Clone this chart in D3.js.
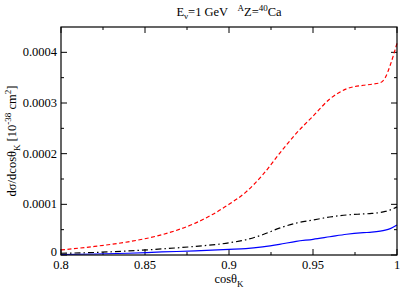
<!DOCTYPE html>
<html>
<head>
<meta charset="utf-8">
<script src="https://cdn.jsdelivr.net/npm/d3@7"></script>
<style>
  body { margin: 0; background: #fff; }
  svg text { font-family: "Liberation Serif", "DejaVu Serif", serif; fill: #000; }
</style>
</head>
<body>
<div id="chart"></div>
<script>
// cos(theta_K) grid and curves, values in units of 1e-4 (10^-38 cm^2)
const cosK = [0.80, 0.82, 0.84, 0.86, 0.88, 0.90, 0.91, 0.92, 0.93, 0.94, 0.95, 0.96, 0.97, 0.98, 0.985, 0.99, 0.993, 0.996, 1.0];
const redDashed = [0.10, 0.17, 0.26, 0.40, 0.63, 1.00, 1.24, 1.58, 2.00, 2.40, 2.74, 3.08, 3.28, 3.35, 3.37, 3.40, 3.50, 3.75, 4.18];
const blackDashDot = [0.035, 0.05, 0.08, 0.12, 0.17, 0.24, 0.30, 0.40, 0.53, 0.63, 0.69, 0.75, 0.79, 0.81, 0.82, 0.84, 0.86, 0.89, 0.95];
const blueSolid = [0.01, 0.02, 0.035, 0.06, 0.08, 0.11, 0.125, 0.16, 0.21, 0.27, 0.31, 0.36, 0.41, 0.44, 0.45, 0.47, 0.49, 0.52, 0.59];

const xTicks = [0.8, 0.85, 0.9, 0.95, 1];
const xTickLabels = ["0.8", "0.85", "0.9", "0.95", "1"];
const yTicks = [0, 0.0001, 0.0002, 0.0003, 0.0004];
const yTickLabels = ["0", "0.0001", "0.0002", "0.0003", "0.0004"];

const width = 415, height = 294;
const margin = { left: 61, right: 18, top: 27, bottom: 39 };
const serif = "'Liberation Serif', 'DejaVu Serif', serif";

const svg = d3.select("#chart")
  .append("svg")
  .attr("width", width)
  .attr("height", height)
  .attr("font-family", serif);

const x = d3.scaleLinear().domain([0.8, 1]).range([margin.left, width - margin.right]);
const y = d3.scaleLinear().domain([0, 0.00045]).range([height - margin.bottom, margin.top]);

const x0 = x.range()[0], x1 = x.range()[1];
const y0 = y.range()[0], y1 = y.range()[1];

// inward ticks on all four sides
const xMinor = d3.range(0.825, 1, 0.05);
const yMinor = d3.range(0.00005, 0.00045, 0.0001);
const tickG = svg.append("g").attr("stroke", "#000").attr("stroke-width", 1);

function xt(v, len) {
  tickG.append("line").attr("x1", x(v)).attr("x2", x(v)).attr("y1", y0).attr("y2", y0 - len);
  tickG.append("line").attr("x1", x(v)).attr("x2", x(v)).attr("y1", y1).attr("y2", y1 + len);
}
function yt(v, len) {
  tickG.append("line").attr("y1", y(v)).attr("y2", y(v)).attr("x1", x0).attr("x2", x0 + len);
  tickG.append("line").attr("y1", y(v)).attr("y2", y(v)).attr("x1", x1).attr("x2", x1 - len);
}
xTicks.forEach(v => xt(v, 6));
xMinor.forEach(v => xt(v, 3));
yTicks.forEach(v => yt(v, 6));
yMinor.forEach(v => yt(v, 3));

// curves
const series = [
  { vals: blueSolid, color: "#0000ff", dash: null },
  { vals: blackDashDot, color: "#000000", dash: "6,3,1.5,3" },
  { vals: redDashed, color: "#ff0000", dash: "4,2.5" }
];

const line = d3.line()
  .x(d => x(d[0]))
  .y(d => y(d[1] * 1e-4))
  .curve(d3.curveMonotoneX);

series.forEach(s => {
  svg.append("path")
    .datum(cosK.map((c, i) => [c, s.vals[i]]))
    .attr("d", line)
    .attr("fill", "none")
    .attr("stroke", s.color)
    .attr("stroke-width", 1.2)
    .attr("stroke-dasharray", s.dash);
});

// frame
svg.append("rect")
  .attr("x", x0).attr("y", y1)
  .attr("width", x1 - x0).attr("height", y0 - y1)
  .attr("fill", "none").attr("stroke", "#000").attr("stroke-width", 1.2);

// tick labels
svg.append("g").selectAll("text")
  .data(xTicks)
  .enter().append("text")
  .attr("x", d => x(d))
  .attr("y", y0 + 14)
  .attr("text-anchor", "middle")
  .style("font-size", "12.5px")
  .text((d, i) => xTickLabels[i]);

svg.append("g").selectAll("text")
  .data(yTicks)
  .enter().append("text")
  .attr("x", x0 - 4)
  .attr("y", d => y(d) + (d === 0 ? 1 : 4))
  .attr("text-anchor", "end")
  .style("font-size", "12.5px")
  .text((d, i) => yTickLabels[i]);

// axis titles
const xl = svg.append("text")
  .attr("x", (x0 + x1) / 2)
  .attr("y", 283)
  .attr("text-anchor", "middle")
  .style("font-size", "12.5px");
xl.append("tspan").text("cosθ");
xl.append("tspan").attr("dy", 4).style("font-size", "9px").text("K");

const yl = svg.append("text")
  .attr("transform", "translate(16," + ((y0 + y1) / 2) + ") rotate(-90)")
  .attr("text-anchor", "middle")
  .style("font-size", "12.5px");
yl.append("tspan").text("dσ/dcosθ");
yl.append("tspan").attr("dy", 4).style("font-size", "9px").text("K");
yl.append("tspan").attr("dy", -4).text(" [10");
yl.append("tspan").attr("dy", -5).style("font-size", "9px").text("-38");
yl.append("tspan").attr("dy", 5).text(" cm");
yl.append("tspan").attr("dy", -5).style("font-size", "9px").text("2");
yl.append("tspan").attr("dy", 5).text("]");

// title
const t = svg.append("text")
  .attr("x", (x0 + x1) / 2)
  .attr("y", 16)
  .attr("text-anchor", "middle")
  .style("font-size", "12.5px");
t.append("tspan").text("E");
t.append("tspan").attr("dy", 3).style("font-size", "9px").text("ν");
t.append("tspan").attr("dy", -3).text("=1 GeV\u00a0\u00a0\u00a0");
t.append("tspan").attr("dy", -5).style("font-size", "9px").text("A");
t.append("tspan").attr("dy", 5).text("Z=");
t.append("tspan").attr("dy", -5).style("font-size", "9px").text("40");
t.append("tspan").attr("dy", 5).text("Ca");
</script>
</body>
</html>
